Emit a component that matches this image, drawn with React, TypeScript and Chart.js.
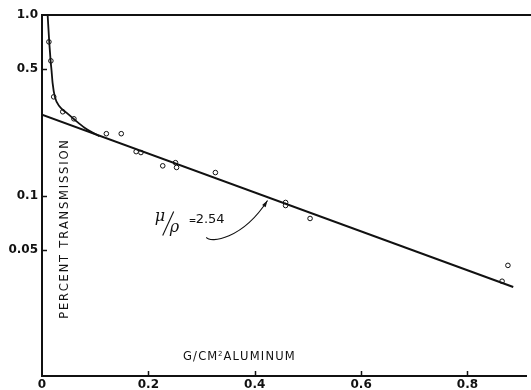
import { useEffect, useRef } from "react";
import { Chart, registerables } from "chart.js";

Chart.register(...registerables);

// ---- data ----
const xTicks = [0, 0.2, 0.4, 0.6, 0.8];
const xTickLabels = ["0", "0.2", "0.4", "0.6", "0.8"];
const yTicks = [1.0, 0.5, 0.1, 0.05];
const yTickLabels = ["1.0", "0.5", "0.1", "0.05"];

// measured points (open circles)
const pointX = [0.013, 0.0167, 0.022, 0.039, 0.06, 0.121, 0.149, 0.177, 0.186, 0.227, 0.251, 0.253, 0.326, 0.458, 0.458, 0.504, 0.876, 0.865];
const pointY = [0.71, 0.557, 0.352, 0.291, 0.266, 0.22, 0.22, 0.175, 0.173, 0.146, 0.152, 0.143, 0.134, 0.0915, 0.088, 0.0746, 0.041, 0.0335];

// hand-drawn fitted curve
const curveX = [0.0106, 0.0136, 0.0162, 0.018, 0.0199, 0.0242, 0.0335, 0.0465, 0.0614, 0.08, 0.095, 0.108];
const curveY = [1.0, 0.709, 0.557, 0.49, 0.421, 0.352, 0.31, 0.287, 0.263, 0.2375, 0.223, 0.213];

// straight exponential fit line
const lineX = [0, 0.886];
const lineY = [0.28, 0.0311];

const xTitleMain = "G/CM";
const xTitleSup = "2";
const xTitleRest = "ALUMINUM";
const yTitle = "PERCENT TRANSMISSION";
const slopeValue = "2.54";

const SANS = '"DejaVu Sans", sans-serif';
const INK = "#111";

function spacedWidth(ctx: CanvasRenderingContext2D, text: string, sp: number) {
  let w = 0;
  const chars = Array.from(text);
  chars.forEach((c, i) => {
    w += ctx.measureText(c).width + (i < chars.length - 1 ? sp : 0);
  });
  return w;
}
function spacedText(ctx: CanvasRenderingContext2D, text: string, x: number, y: number, sp: number) {
  let cx = x;
  for (const c of Array.from(text)) {
    ctx.fillText(c, cx, y);
    cx += ctx.measureText(c).width + sp;
  }
  return cx;
}

const decorPlugin = {
  id: "decor",
  beforeDraw(chart: any) {
    const ctx = chart.ctx as CanvasRenderingContext2D;
    ctx.save();
    ctx.fillStyle = "#fff";
    ctx.fillRect(0, 0, chart.width, chart.height);
    ctx.restore();
  },
  afterDraw(chart: any) {
    const ctx = chart.ctx as CanvasRenderingContext2D;
    const area = chart.chartArea;
    const xs = chart.scales.x;
    const ys = chart.scales.y;
    ctx.save();
    ctx.strokeStyle = INK;
    ctx.fillStyle = INK;

    // top frame line
    ctx.lineWidth = 2;
    ctx.beginPath();
    ctx.moveTo(area.left - 1, area.top);
    ctx.lineTo(chart.width, area.top);
    ctx.stroke();

    // inward tick marks
    ctx.lineWidth = 1.5;
    xTicks.forEach((v) => {
      if (v === 0) return;
      const px = Math.round(xs.getPixelForValue(v)) + 0.5;
      ctx.beginPath();
      ctx.moveTo(px, area.bottom);
      ctx.lineTo(px, area.bottom - 5);
      ctx.stroke();
    });
    yTicks.forEach((v) => {
      if (v === 1.0) return;
      const py = Math.round(ys.getPixelForValue(v)) + 0.5;
      ctx.beginPath();
      ctx.moveTo(area.left, py);
      ctx.lineTo(area.left + 5, py);
      ctx.stroke();
    });

    // y title (inside plot, rotated)
    ctx.font = `11.5px ${SANS}`;
    ctx.textBaseline = "middle";
    ctx.textAlign = "left";
    const ySp = 1.8;
    const yw = spacedWidth(ctx, yTitle, ySp);
    ctx.save();
    ctx.translate(area.left + 23, 229.5);
    ctx.rotate(-Math.PI / 2);
    spacedText(ctx, yTitle, -yw / 2, 0, ySp);
    ctx.restore();

    // x title (inside plot)
    ctx.textBaseline = "alphabetic";
    ctx.font = `11.5px ${SANS}`;
    const xSp = 1.2;
    const tx = xs.getPixelForValue(0.265);
    const ty = area.bottom - 16;
    let cx = spacedText(ctx, xTitleMain, tx, ty, xSp);
    ctx.font = `7px ${SANS}`;
    ctx.fillText(xTitleSup, cx - 0.5, ty - 4);
    cx += ctx.measureText(xTitleSup).width + 0.5;
    ctx.font = `11.5px ${SANS}`;
    spacedText(ctx, xTitleRest, cx, ty, xSp);

    // slope annotation mu/rho = 2.54
    const ax = xs.getPixelForValue(0.21);
    const ay = ys.getPixelForValue(0.0736);
    ctx.font = `italic 16px "DejaVu Serif", serif`;
    ctx.textBaseline = "middle";
    ctx.fillText("\u03BC", ax + 1, ay - 3);
    ctx.lineWidth = 1.1;
    ctx.beginPath();
    ctx.moveTo(ax + 9, ay + 16);
    ctx.lineTo(ax + 20, ay - 8);
    ctx.stroke();
    ctx.fillText("\u03C1", ax + 16, ay + 8);
    ctx.font = `bold 9px ${SANS}`;
    ctx.fillText("=", ax + 35, ay + 1);
    ctx.font = `13px ${SANS}`;
    ctx.fillText(slopeValue, ax + 42, ay);

    // curved arrow to the line
    const s = { x: xs.getPixelForValue(0.309), y: ys.getPixelForValue(0.0586) };
    const e = { x: xs.getPixelForValue(0.424), y: ys.getPixelForValue(0.0938) };
    const c1 = { x: s.x + 4, y: s.y + 6 };
    const c2 = { x: s.x + 36, y: s.y + 2 };
    ctx.lineWidth = 1.1;
    ctx.beginPath();
    ctx.moveTo(s.x, s.y);
    ctx.bezierCurveTo(c1.x, c1.y, c2.x, c2.y, e.x, e.y);
    ctx.stroke();
    const ang = Math.atan2(e.y - c2.y, e.x - c2.x);
    ctx.beginPath();
    ctx.moveTo(e.x, e.y);
    ctx.lineTo(e.x - 7 * Math.cos(ang - 0.3), e.y - 7 * Math.sin(ang - 0.3));
    ctx.lineTo(e.x - 7 * Math.cos(ang + 0.3), e.y - 7 * Math.sin(ang + 0.3));
    ctx.closePath();
    ctx.fill();

    ctx.restore();
  },
};

export default function App() {
  const ref = useRef<HTMLCanvasElement | null>(null);
  useEffect(() => {
    document.body.style.margin = "0";
    const canvas = ref.current;
    if (!canvas) return;
    const chart = new Chart(canvas, {
      type: "scatter",
      data: {
        datasets: [
          {
            type: "line",
            data: lineX.map((x, i) => ({ x, y: lineY[i] })),
            borderColor: INK,
            borderWidth: 2,
            pointRadius: 0,
            fill: false,
          },
          {
            type: "line",
            data: curveX.map((x, i) => ({ x, y: curveY[i] })),
            borderColor: INK,
            borderWidth: 1.8,
            pointRadius: 0,
            cubicInterpolationMode: "monotone",
            fill: false,
          },
          {
            type: "scatter",
            data: pointX.map((x, i) => ({ x, y: pointY[i] })),
            pointStyle: "circle",
            pointRadius: 2.3,
            pointBorderWidth: 1,
            borderColor: INK,
            backgroundColor: "#fff",
          },
        ],
      } as any,
      options: {
        animation: false,
        responsive: false,
        devicePixelRatio: 1,
        layout: { padding: { top: 15, right: 0, left: 0, bottom: 0 } },
        plugins: { legend: { display: false }, tooltip: { enabled: false } },
        scales: {
          x: {
            type: "linear",
            min: 0,
            max: 0.91,
            afterBuildTicks: (s: any) => {
              s.ticks = xTicks.map((v) => ({ value: v }));
            },
            afterFit: (s: any) => {
              s.height = 14;
            },
            ticks: {
              callback: (v: any) => xTickLabels[xTicks.indexOf(v)] ?? "",
              padding: 2,
              autoSkip: false,
              maxRotation: 0,
              color: INK,
              font: { family: SANS, size: 12, weight: "bold" },
            },
            grid: { display: true, drawOnChartArea: false, drawTicks: false },
            border: { display: true, width: 2, color: INK },
          },
          y: {
            type: "logarithmic",
            min: 0.01,
            max: 1,
            afterBuildTicks: (s: any) => {
              s.ticks = yTicks.map((v) => ({ value: v }));
            },
            afterFit: (s: any) => {
              s.width = 42;
            },
            ticks: {
              callback: (v: any) => yTickLabels[yTicks.indexOf(v)] ?? "",
              padding: 4,
              autoSkip: false,
              color: INK,
              font: { family: SANS, size: 12, weight: "bold" },
            },
            grid: { display: true, drawOnChartArea: false, drawTicks: false },
            border: { display: true, width: 2, color: INK },
          },
        },
      } as any,
      plugins: [decorPlugin],
    });
    return () => chart.destroy();
  }, []);
  return (
    <canvas
      ref={ref}
      width={531}
      height={390}
      style={{ position: "absolute", left: 0, top: 0, width: 531, height: 390 }}
    />
  );
}
